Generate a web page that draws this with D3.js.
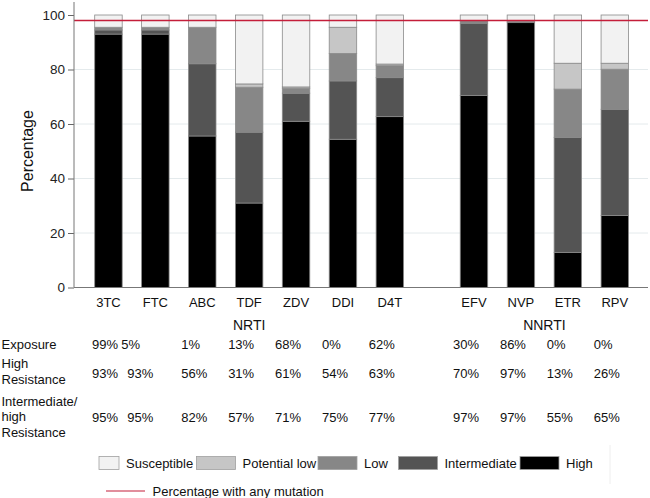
<!DOCTYPE html>
<html><head><meta charset="utf-8">
<script src="https://cdn.jsdelivr.net/npm/d3@7"></script>
<style>body{margin:0;background:#fff}svg{display:block;font-family:"Liberation Sans",Arial,sans-serif}</style>
</head><body><svg id="c" width="650" height="498"></svg>
<script>
const nrti = ["3TC","FTC","ABC","TDF","ZDV","DDI","D4T"];
const nnrti = ["EFV","NVP","ETR","RPV"];
const categories = nrti.concat(nnrti);
const high         = [93, 93, 55.6, 31, 61, 54.4, 62.7, 70.5, 97.2, 12.9, 26.4];
const intermediate = [1.5, 1.5, 26.5, 26, 10.3, 21.4, 14.3, 26.5, 0.5, 42.2, 39];
const low          = [1, 1, 13.4, 16.5, 1.8, 10.1, 4.4, 0.8, 0, 17.7, 14.7];
const potentialLow = [0, 0, 0, 1.2, 0.5, 9.6, 0.6, 0, 0, 9.5, 2.2];
const anyMutation = 98;
const yTicks = [0, 20, 40, 60, 80, 100];
const exposure = ["99%","5%","1%","13%","68%","0%","62%","30%","86%","0%","0%"];
const highRes  = ["93%","93%","56%","31%","61%","54%","63%","70%","97%","13%","26%"];
const intHighRes = ["95%","95%","82%","57%","71%","75%","77%","97%","97%","55%","65%"];
const seriesNames = ["High","Intermediate","Low","Potential low","Susceptible"];
const legendOrder = ["Susceptible","Potential low","Low","Intermediate","High"];

const colors = {"High":"#000000","Intermediate":"#545454","Low":"#878787","Potential low":"#c6c6c6","Susceptible":"#f2f2f2"};

const rows = categories.map((c,i)=>{
  const r = {cat:c, "High":high[i], "Intermediate":intermediate[i], "Low":low[i], "Potential low":potentialLow[i]};
  r["Susceptible"] = 100 - high[i]-intermediate[i]-low[i]-potentialLow[i];
  return r;
});

const svg = d3.select("#c");
const y = d3.scaleLinear().domain([0,100]).range([287.5,15]);
const xA = d3.scaleBand().domain(nrti).range([85,413.3]).paddingInner(0.414).paddingOuter(0.207);
const xB = d3.scaleBand().domain(nnrti).range([450.5,638.3]).paddingInner(0.414).paddingOuter(0.207);
const xs = c => nrti.includes(c) ? xA(c) : xB(c);
const xc = c => xs(c) + xA.bandwidth()/2;
const left = 74, right = 648;

// grid
svg.append("g").selectAll("line").data(yTicks.filter(t=>t>0 && t<100)).join("line")
  .attr("x1",left).attr("x2",right).attr("y1",d=>y(d)).attr("y2",d=>y(d))
  .attr("stroke","#e4eaec").attr("stroke-width",1);

// bars
const stack = d3.stack().keys(seriesNames)(rows);
svg.append("g").selectAll("g").data(stack).join("g")
  .attr("fill",d=>colors[d.key])
  .selectAll("rect").data(d=>d).join("rect")
  .attr("x",d=>xs(d.data.cat)).attr("width",xA.bandwidth())
  .attr("y",d=>y(d[1])).attr("height",d=>Math.max(0,y(d[0])-y(d[1])))
  .attr("stroke","#8a8a8a").attr("stroke-width",0.8);

// red line
svg.append("line").attr("x1",left).attr("x2",right).attr("y1",y(anyMutation)).attr("y2",y(anyMutation))
  .attr("stroke","#c41e3a").attr("stroke-width",1.4);

// y axis
const yAxis = svg.append("g").attr("transform",`translate(${left},0)`)
  .call(d3.axisLeft(y).tickValues(yTicks).tickSize(6).tickPadding(3));
yAxis.select(".domain").remove();
yAxis.selectAll(".tick line").attr("stroke","#666");
yAxis.selectAll("text").attr("font-size",13.5).attr("fill","#222").attr("font-family","Liberation Sans, Arial, sans-serif");
svg.append("line").attr("x1",left).attr("x2",left).attr("y1",2).attr("y2",y(0)).attr("stroke","#777");
svg.append("line").attr("x1",left).attr("x2",right).attr("y1",y(0)).attr("y2",y(0)).attr("stroke","#777");

svg.append("text").attr("transform","translate(33,151) rotate(-90)").attr("text-anchor","middle")
  .attr("font-size",16).attr("fill","#111").text("Percentage");

// category labels
svg.append("g").selectAll("text").data(categories).join("text")
  .attr("x",d=>xc(d)).attr("y",306.5).attr("text-anchor","middle")
  .attr("font-size",13).attr("fill","#111").text(d=>d);

// group labels
svg.append("text").attr("x",(xA.range()[0]+xA.range()[1])/2).attr("y",329.5).attr("text-anchor","middle")
  .attr("font-size",14).attr("fill","#111").text("NRTI");
svg.append("text").attr("x",(xB.range()[0]+xB.range()[1])/2).attr("y",329.5).attr("text-anchor","middle")
  .attr("font-size",14).attr("fill","#111").text("NNRTI");

// table
const nudge = {"3TC":4.5,"FTC":-7};
const colX = (c) => xc(c) - 21 + (nudge[c]||0);
const tbl = svg.append("g").attr("font-size",13).attr("fill","#111");
const rowLabels = [
  {lines:["Exposure"], y0:348.5, vy:348.5, vals:exposure, extra:{"FTC":-6}},
  {lines:["High","Resistance"], y0:368, vy:378, vals:highRes, extra:{}},
  {lines:["Intermediate/","high","Resistance"], y0:405.5, vy:421.5, vals:intHighRes, extra:{}}
];
rowLabels.forEach(r=>{
  r.lines.forEach((t,k)=>tbl.append("text").attr("x",1.5).attr("y",r.y0+k*15.5).text(t));
  tbl.selectAll(null).data(categories).join("text")
    .attr("x",(c)=>colX(c)+(r.extra[c]||0)).attr("y",r.vy)
    .text((c,i)=>r.vals[i]);
});

// legend
const lg = svg.append("g").attr("font-size",13).attr("fill","#111");
const legX = {"Susceptible":99,"Potential low":196.5,"Low":318,"Intermediate":398.5,"High":520};
const legW = {"Susceptible":20};
legendOrder.forEach(k=>{
  const w = legW[k] || 39;
  lg.append("rect").attr("x",legX[k]).attr("y",456.5).attr("width",w).attr("height",13)
    .attr("fill",colors[k]).attr("stroke","#a0a0a0").attr("stroke-width",0.8);
  lg.append("text").attr("x",legX[k]+w+7).attr("y",468).text(k);
});
lg.append("line").attr("x1",610).attr("x2",610).attr("y1",445).attr("y2",484).attr("stroke","#eeeeee");
lg.append("line").attr("x1",106).attr("x2",145).attr("y1",491).attr("y2",491).attr("stroke","#c41e3a").attr("stroke-width",1.2);
lg.append("text").attr("x",152.5).attr("y",495.5).text("Percentage with any mutation");
</script></body></html>
